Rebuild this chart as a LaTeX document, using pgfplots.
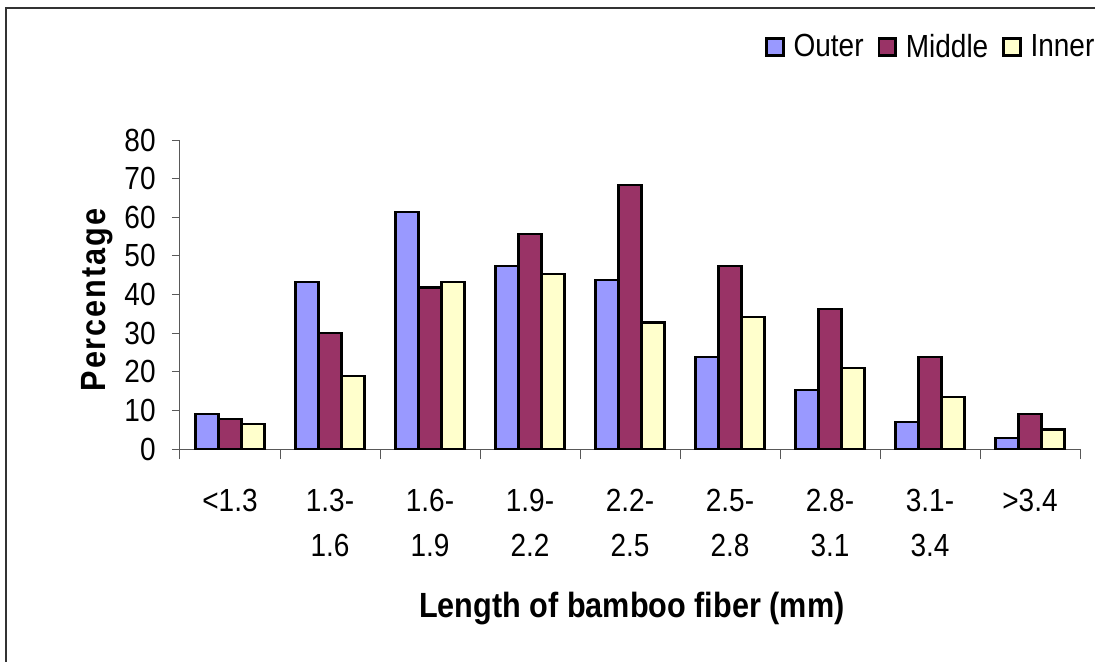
\documentclass[border=0pt]{standalone}
\usepackage{fontspec}
\setmainfont{Liberation Sans}
\newfontfamily\cond[FakeStretch=0.875]{Liberation Sans}
\usepackage{pgfplots}
\pgfplotsset{compat=1.18}

\definecolor{outer}{RGB}{153,153,255}
\definecolor{middle}{RGB}{153,51,102}
\definecolor{inner}{RGB}{255,255,204}

% 1 px of the reference = 0.5pt
\begin{document}
\begin{tikzpicture}
\path[use as bounding box] (-90pt,-106.5pt) rectangle (457.5pt,224.5pt);
\draw[line width=0.8pt, black!80] (-87pt,-120pt) -- (-87pt,220.5pt) -- (470pt,220.5pt);
\begin{axis}[
    at={(0pt,0pt)}, anchor=south west,
    scale only axis,
    width=450pt, height=154.5pt,
    xmin=-0.5, xmax=8.5,
    ymin=0, ymax=80,
    clip=false,
    axis lines=left,
    axis line style={-, black!65, line width=0.5pt},
    ybar=0pt,
    bar width=11.5pt,
    xtick={0,1,2,3,4,5,6,7,8},
    xticklabels={{<1.3}, {1.3-\\1.6}, {1.6-\\1.9}, {1.9-\\2.2}, {2.2-\\2.5},
                 {2.5-\\2.8}, {2.8-\\3.1}, {3.1-\\3.4}, {>3.4}},
    minor xtick={-0.5,0.5,...,8.5},
    major x tick style={draw=none},
    ytick={0,10,20,30,40,50,60,70,80},
    tick align=outside,
    major tick length=4pt,
    minor tick length=5pt,
    tick style={black!65, line width=0.5pt},
    /pgf/number format/assume math mode=true,
    ticklabel style={font=\cond\fontsize{16}{22.5}\selectfont},
    xticklabel style={align=center, anchor=north, inner sep=0pt, yshift=-16pt},
    yticklabel style={anchor=east, inner sep=0pt, xshift=-8pt},
    xlabel={Length of bamboo fiber (mm)},
    ylabel={Percentage},
    label style={font=\cond\bfseries\fontsize{17.5}{20}\selectfont},
    xlabel style={at={(axis description cs:0.502,-0.515)}, anchor=center},
    ylabel style={at={(axis description cs:-0.092,0.482)}, anchor=center,
                  font=\cond\bfseries\fontsize{17.5}{20}\selectfont\addfontfeatures{LetterSpace=5.5}},
    legend columns=-1,
    legend image code/.code={\draw[#1] (0pt,-4.2pt) rectangle (8.4pt,4.2pt);},
    legend style={at={(axis description cs:0.65,1.301)}, anchor=west,
                  draw=none, inner sep=0pt,
                  font=\cond\fontsize{16}{18}\selectfont,
                  /tikz/every odd column/.append style={column sep=2.5pt},
                  /tikz/every even column/.append style={column sep=5pt}},
    every axis plot/.append style={draw=black, line width=1.2pt},
]
\addplot[fill=outer] coordinates {
    (0,9.0) (1,43.2) (2,61.3) (3,47.4) (4,43.8) (5,23.8) (6,15.3) (7,7.0) (8,2.8)
};
\addlegendentry{Outer}
\addplot[fill=middle] coordinates {
    (0,7.7) (1,30.0) (2,41.8) (3,55.7) (4,68.3) (5,47.4) (6,36.3) (7,23.8) (8,9.1)
};
\addlegendentry{Middle}
\addplot[fill=inner] coordinates {
    (0,6.4) (1,18.9) (2,43.2) (3,45.3) (4,32.8) (5,34.1) (6,20.9) (7,13.4) (8,5.0)
};
\addlegendentry{Inner}
\end{axis}
\end{tikzpicture}
\end{document}
